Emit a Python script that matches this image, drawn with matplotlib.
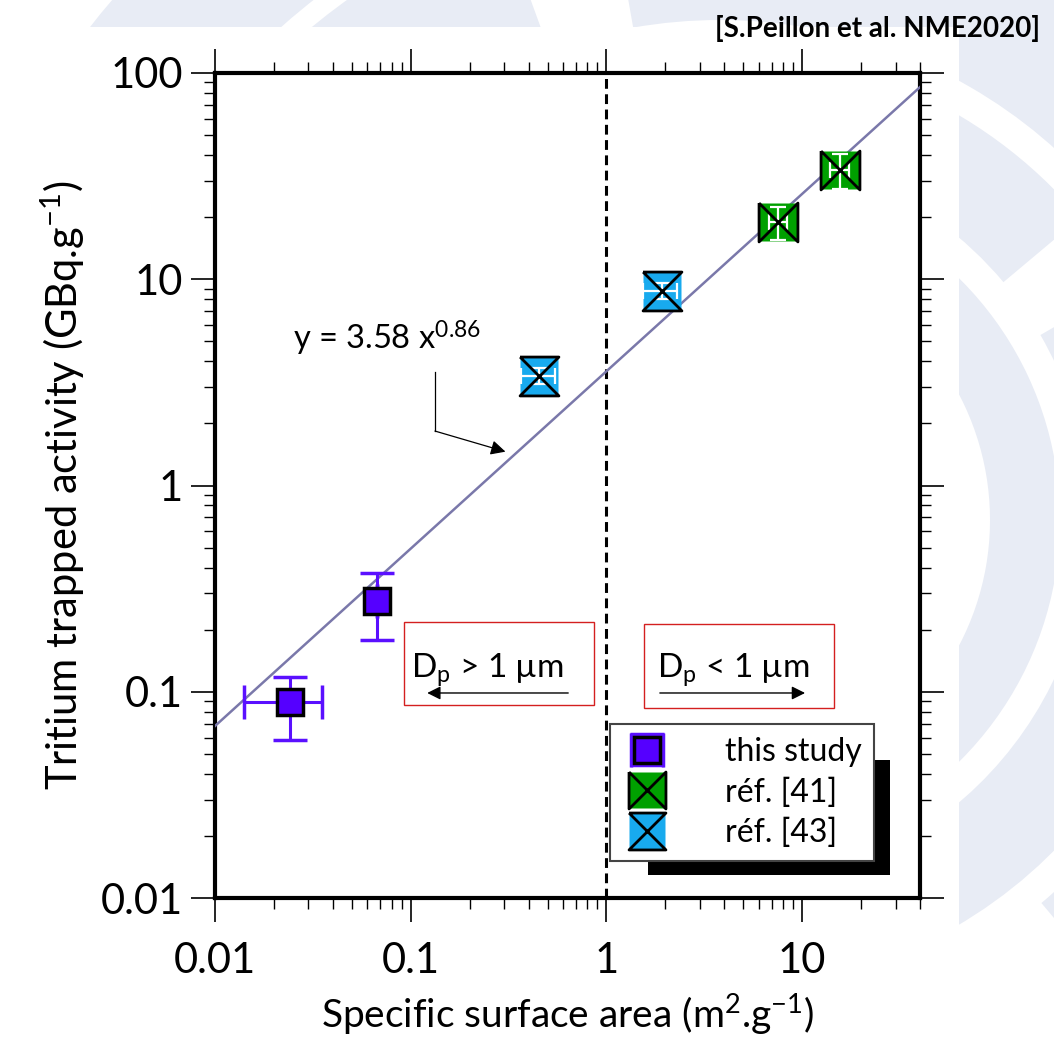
import matplotlib
matplotlib.use("Agg")
import matplotlib.pyplot as plt
from matplotlib.patches import Rectangle, Wedge
from matplotlib.transforms import IdentityTransform
import numpy as np

plt.rcParams['font.family'] = ['Lato', 'DejaVu Sans']
plt.rcParams['mathtext.fontset'] = 'custom'
plt.rcParams['mathtext.rm'] = 'Lato'
plt.rcParams['mathtext.it'] = 'Lato:italic'
plt.rcParams['mathtext.bf'] = 'Lato:bold'

# données
etude_x = [0.0242, 0.0670]
etude_y = [0.0889, 0.2755]
etude_xerr = [[0.0101, 0.0], [0.0109, 0.0]]
etude_yerr = [[0.0303, 0.0975], [0.0291, 0.1005]]

ref41_x = [7.55, 15.6]
ref41_y = [19.0, 33.9]
ref41_xerr = [0.8, 1.7]
ref41_yerr = [3.5, 6.5]

ref43_x = [0.454, 1.92]
ref43_y = [3.40, 8.78]
ref43_xerr = [0.09, 0.38]
ref43_yerr = [0.3, 0.8]

fit_a = 3.58
fit_b = 0.86
xlim = (0.01, 40)
ylim = (0.01, 100)

fig = plt.figure(figsize=(10.54, 10.56), dpi=100)

# filigrane en fond (logo clair)
pix = IdentityTransform()
clair = '#e8ecf5'
for r_in, r_out, t1, t2 in [(270, 340, -80, 60), (270, 340, 75, 200),
                            (370, 470, -60, 30), (370, 470, 40, 150),
                            (500, 640, -50, 10), (500, 640, 20, 100),
                            (500, 640, 110, 170), (660, 800, 95, 160)]:
    fig.patches.append(Wedge((720, 1056 - 520), r_out, t1, t2, width=r_out - r_in,
                             transform=pix, facecolor=clair, edgecolor='none', zorder=-3))
fig.patches.append(Rectangle((0, 0), 959, 1056 - 27, transform=pix,
                             facecolor='white', edgecolor='none', zorder=-2))

ax = fig.add_axes([215 / 1054, 1 - 898 / 1056, 705 / 1054, 825 / 1056])
ax.set_facecolor('white')
ax.set_xscale('log')
ax.set_yscale('log')
ax.set_xlim(*xlim)
ax.set_ylim(*ylim)

# droite d'ajustement
xs = np.logspace(np.log10(xlim[0]), np.log10(xlim[1]), 50)
ax.plot(xs, fit_a * xs ** fit_b, color='#7a78aa', lw=1.8, zorder=4)

# ligne verticale en x = 1
ax.axvline(1, color='black', lw=2.2, linestyle=(0, (3.2, 1.8)), zorder=2)

# marqueurs (contour fermé : on répète le premier sommet)
sablier = [(-1, 1), (1, 1), (-1, -1), (1, -1), (-1, 1)]
noeud = [(-1, 1), (-1, -1), (1, 1), (1, -1), (-1, 1)]
vert = '#00a000'
bleu = '#18aaee'

h1 = ax.errorbar(etude_x, etude_y, xerr=etude_xerr, yerr=etude_yerr, fmt='s',
                 ms=19, mfc='#5500ff', mec='black', mew=2.5, ecolor='#5a10ff',
                 elinewidth=2.2, capsize=12, capthick=2.2, zorder=5)


def serie_ref(x, y, xerr, yerr, couleur, clair_c, forme, ms=28):
    fond = ax.plot(x, y, linestyle='none', marker='s', ms=ms, mfc=couleur,
                   mec='none', zorder=5)[0]
    eb = ax.errorbar(x, y, xerr=xerr, yerr=yerr, fmt='none', ecolor='white',
                     elinewidth=1.6, capsize=6, capthick=1.6, zorder=6)
    for c in eb[1]:
        c.set_color(clair_c)
    trait = ax.plot(x, y, linestyle='none', marker=forme, ms=ms, mfc='none',
                    mec='black', mew=2, zorder=7)[0]
    return fond, trait


h2 = serie_ref(ref41_x, ref41_y, ref41_xerr, ref41_yerr, vert, '#20b020', noeud)
h3 = serie_ref(ref43_x, ref43_y, ref43_xerr, ref43_yerr, bleu, '#40c0ff', sablier)

# légende
leg = ax.legend([h1, h2, h3], ['this study', 'réf. [41]', 'réf. [43]'],
                loc='upper left', bbox_to_anchor=(0.560, 0.211), borderaxespad=0,
                fontsize=23, borderpad=0.4, handlelength=1.5, handletextpad=1.7,
                labelspacing=0.33, fancybox=False, framealpha=1, edgecolor='#444444',
                markerscale=0.95)
leg.get_frame().set_linewidth(1.5)
leg.set_zorder(9)
ax.add_patch(Rectangle((0.614, 0.028), 0.343, 0.139, transform=ax.transAxes,
                       facecolor='black', edgecolor='none', zorder=8))

# équation et flèche
ax.text(0.111, 0.664, 'y = 3.58 x$^{0.86}$', transform=ax.transAxes,
        fontsize=23.5, ha='left', va='baseline', zorder=9)
ax.plot([0.312, 0.312], [0.638, 0.566], transform=ax.transAxes, color='black',
        lw=0.9, zorder=9)
ax.annotate('', xy=(0.412, 0.541), xytext=(0.312, 0.566), xycoords='axes fraction',
            arrowprops=dict(arrowstyle='-|>', color='black', lw=0.9,
                            mutation_scale=22, shrinkA=0, shrinkB=0), zorder=9)

# encadrés D_p
for (x0, y0, w, hgt), txt, (xa, xb), xt in [
        ((0.268, 0.234, 0.270, 0.1005), 'D$_\\mathregular{p}$ > 1 µm', (0.501, 0.301), 0.386),
        ((0.6085, 0.230, 0.2695, 0.102), 'D$_\\mathregular{p}$ < 1 µm', (0.631, 0.837), 0.736)]:
    ax.add_patch(Rectangle((x0, y0), w, hgt, transform=ax.transAxes, fill=False,
                           edgecolor='#d42020', lw=1.0, zorder=9))
    ax.text(xt, 0.268, txt, transform=ax.transAxes, fontsize=24, ha='center',
            va='baseline', zorder=9)
    ax.annotate('', xy=(xb, 0.2485), xytext=(xa, 0.2485), xycoords='axes fraction',
                arrowprops=dict(arrowstyle='-|>', color='black', lw=1.0,
                                mutation_scale=20, shrinkA=0, shrinkB=0), zorder=9)

# axes et graduations
for s in ax.spines.values():
    s.set_linewidth(3)
ax.tick_params(which='both', direction='out', top=True, right=True)
ax.tick_params(which='major', length=17, width=1.2, labelsize=30)
ax.tick_params(which='minor', length=8, width=1.0)
ax.tick_params(axis='x', which='major', pad=15)
ax.tick_params(axis='y', which='major', pad=6)
ax.set_xticks([0.01, 0.1, 1, 10])
ax.set_xticklabels(['0.01', '0.1', '1', '10'])
ax.set_yticks([0.01, 0.1, 1, 10, 100])
ax.set_yticklabels(['0.01', '0.1', '1', '10', '100'])

ax.set_xlabel('Specific surface area (m$^{2}$.g$^{-1}$)', fontsize=28, labelpad=8)
ax.set_ylabel('Tritium trapped activity (GBq.g$^{-1}$)', fontsize=30, labelpad=10)

fig.text(1040 / 1054, 1 - 28 / 1056, '[S.Peillon et al. NME2020]', fontsize=20,
         fontweight='bold', ha='right', va='center')

fig.savefig('out.png', dpi=100)
